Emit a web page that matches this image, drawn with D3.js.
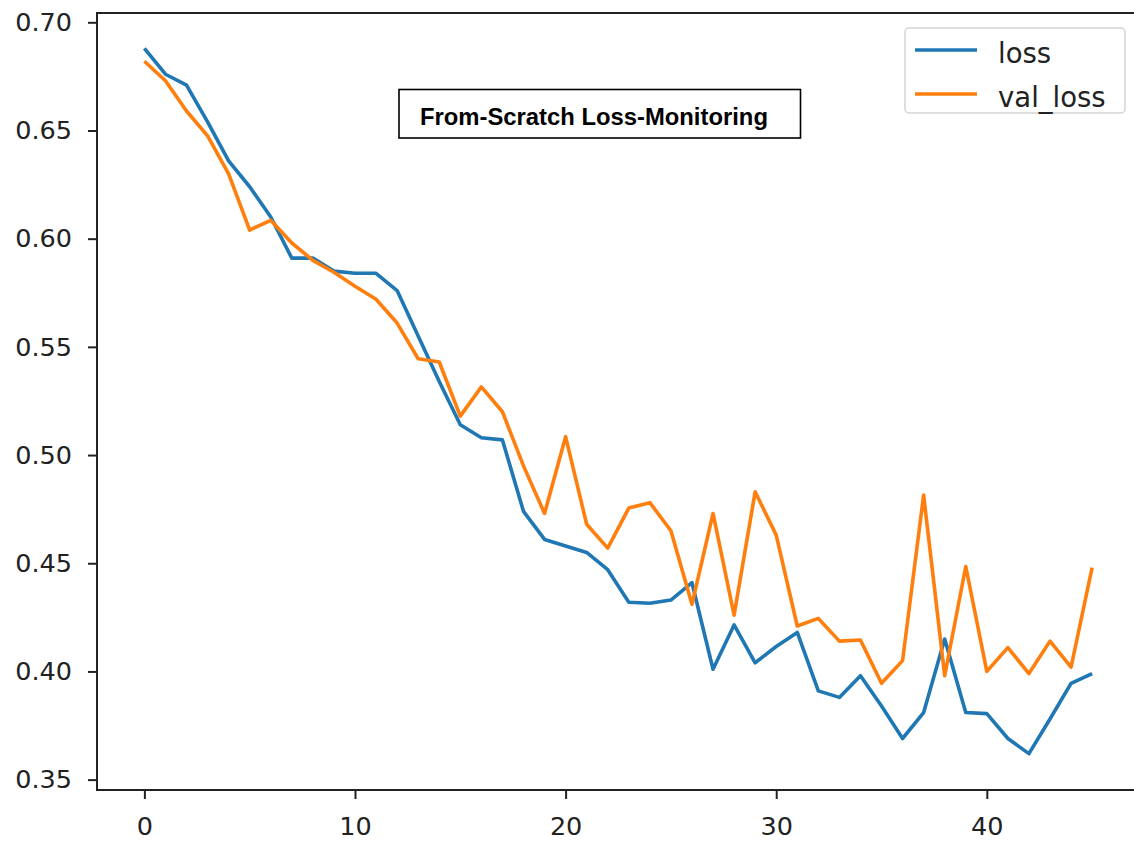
<!DOCTYPE html>
<html>
<head>
<meta charset="utf-8">
<script src="https://cdn.jsdelivr.net/npm/d3@7"></script>
<style>
  html, body { margin: 0; padding: 0; background: #fff; }
  svg { display: block; }
</style>
</head>
<body>
<svg id="chart" width="1134" height="841"></svg>
<script>
const epochs = d3.range(0, 46);
const loss = [
  0.688, 0.676, 0.671, 0.654, 0.636, 0.624, 0.610, 0.591, 0.591, 0.585,
  0.584, 0.584, 0.576, 0.555, 0.534, 0.514, 0.508, 0.507, 0.474, 0.461,
  0.458, 0.455, 0.447, 0.432, 0.4315, 0.433, 0.441, 0.401, 0.4215, 0.404,
  0.4115, 0.418, 0.391, 0.388, 0.398, 0.384, 0.369, 0.381, 0.415, 0.381,
  0.3805, 0.369, 0.362, 0.378, 0.3945, 0.399
];
const valLoss = [
  0.682, 0.673, 0.659, 0.6475, 0.630, 0.604, 0.6085, 0.598, 0.590, 0.5845,
  0.578, 0.572, 0.561, 0.5445, 0.543, 0.518, 0.5315, 0.520, 0.495, 0.473,
  0.5085, 0.468, 0.457, 0.4755, 0.478, 0.465, 0.431, 0.473, 0.426, 0.483,
  0.463, 0.421, 0.4245, 0.414, 0.4145, 0.3945, 0.405, 0.4815, 0.398, 0.4485,
  0.400, 0.411, 0.399, 0.414, 0.402, 0.448
];
const xTicks = [0, 10, 20, 30, 40];
const yTicks = [0.35, 0.40, 0.45, 0.50, 0.55, 0.60, 0.65, 0.70];
const seriesNames = ["loss", "val_loss"];
const seriesColors = ["#1f77b4", "#ff7f0e"];
const titleText = "From-Scratch Loss-Monitoring";

(function () {
const svg = d3.select("#chart");
const pLeft = 97, pTop = 13, pBottom = 790, pRight = 1139.5;

const x = d3.scaleLinear().domain([-2.25, 47.25]).range([pLeft, pRight]);
const y = d3.scaleLinear().domain([0.3452, 0.7043]).range([pBottom, pTop]);

const axisColor = "#222";
const tickFont = "DejaVu Sans, sans-serif";

// Lines
const series = [loss, valLoss];
const line = d3.line().x((d, i) => x(epochs[i])).y(d => y(d));
series.forEach((s, k) => {
  svg.append("path")
    .datum(s)
    .attr("fill", "none")
    .attr("stroke", seriesColors[k])
    .attr("stroke-width", 3.6)
    .attr("stroke-linejoin", "round")
    .attr("stroke-linecap", "butt")
    .attr("d", line);
});

// Spines
svg.append("line").attr("x1", pLeft).attr("x2", pLeft).attr("y1", pTop).attr("y2", pBottom)
  .attr("stroke", axisColor).attr("stroke-width", 2);
svg.append("line").attr("x1", pLeft - 1).attr("x2", pRight).attr("y1", pBottom).attr("y2", pBottom)
  .attr("stroke", axisColor).attr("stroke-width", 2);
svg.append("line").attr("x1", pLeft - 1).attr("x2", pRight).attr("y1", pTop).attr("y2", pTop)
  .attr("stroke", axisColor).attr("stroke-width", 2);
svg.append("line").attr("x1", pRight).attr("x2", pRight).attr("y1", pTop).attr("y2", pBottom)
  .attr("stroke", axisColor).attr("stroke-width", 2);

// X axis
const xAxis = d3.axisBottom(x).tickValues(xTicks).tickFormat(d3.format("d"))
  .tickSize(9).tickPadding(18);
const gx = svg.append("g").attr("transform", `translate(0,${pBottom})`).call(xAxis);
gx.select(".domain").remove();
gx.selectAll(".tick line").attr("stroke", axisColor).attr("stroke-width", 2);
gx.selectAll(".tick text").attr("fill", axisColor)
  .style("font-family", tickFont).style("font-size", "25.5px");

// Y axis
const yAxis = d3.axisLeft(y).tickValues(yTicks).tickFormat(d3.format(".2f"))
  .tickSize(9).tickPadding(16);
const gy = svg.append("g").attr("transform", `translate(${pLeft},0)`).call(yAxis);
gy.select(".domain").remove();
gy.selectAll(".tick line").attr("stroke", axisColor).attr("stroke-width", 2);
gy.selectAll(".tick text").attr("fill", axisColor)
  .style("font-family", tickFont).style("font-size", "25.5px");

// Legend
const lg = svg.append("g");
lg.append("rect").attr("x", 905).attr("y", 28).attr("width", 220).attr("height", 85)
  .attr("rx", 4).attr("fill", "rgba(255,255,255,0.85)")
  .attr("stroke", "#d4d4d4").attr("stroke-width", 1.5);
seriesNames.forEach((n, k) => {
  const ly = 50 + k * 44;
  lg.append("line").attr("x1", 915).attr("x2", 977).attr("y1", ly).attr("y2", ly)
    .attr("stroke", seriesColors[k]).attr("stroke-width", 3.6);
  lg.append("text").attr("x", 998).attr("y", ly + 12.5)
    .attr("fill", axisColor)
    .style("font-family", tickFont).style("font-size", "27.5px")
    .text(n);
});

// Title box
const tb = svg.append("g");
tb.append("rect").attr("x", 399).attr("y", 89.5).attr("width", 401.5).attr("height", 48.5)
  .attr("fill", "#fff").attr("stroke", "#000").attr("stroke-width", 1.6);
const tt = tb.append("text").attr("x", 420).attr("y", 125)
  .attr("fill", "#000")
  .style("font-family", "Liberation Sans, Arial, sans-serif")
  .style("font-weight", "bold").style("font-size", "21px")
  .text(titleText);
const w = tt.node().getComputedTextLength();
const fs = 21 * 348 / w;
tt.style("font-size", fs.toFixed(2) + "px");
})();
</script>
</body>
</html>
